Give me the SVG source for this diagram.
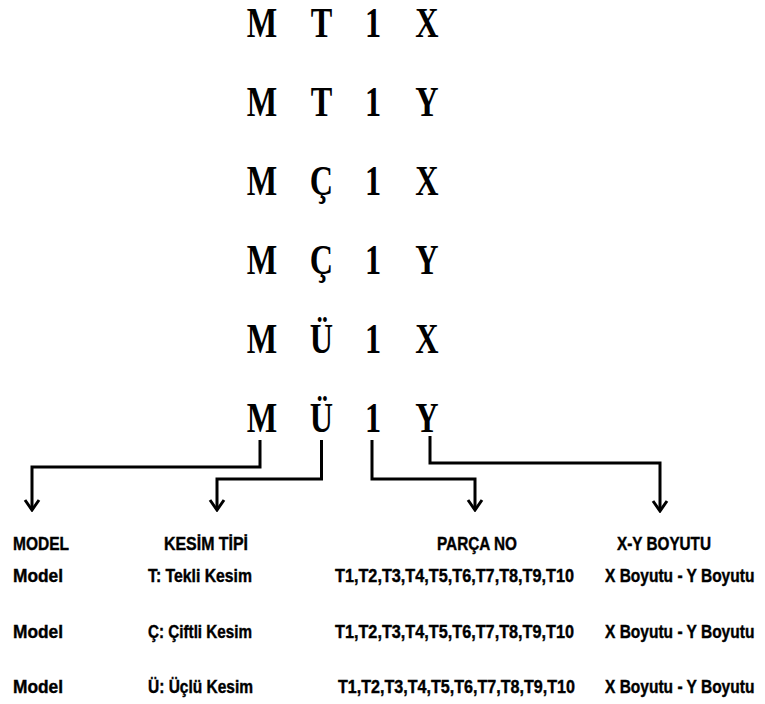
<svg xmlns="http://www.w3.org/2000/svg" width="765" height="704" viewBox="0 0 765 704">
<defs>
<style>
.big{font-family:"Liberation Serif",serif;font-weight:bold;font-size:43px;fill:#000;text-anchor:middle}
.lbl{font-family:"Liberation Sans",Arial,sans-serif;font-weight:bold;font-size:18px;fill:#000;stroke:#000;stroke-width:0.4}
.conn{fill:none;stroke:#000;stroke-width:3;stroke-linejoin:miter}
</style>
<marker id="ah" viewBox="0 0 14 18" refX="12" refY="9" markerWidth="14" markerHeight="18" markerUnits="userSpaceOnUse" orient="auto">
<path d="M2,2 L12,9 L2,16" fill="none" stroke="#000" stroke-width="3"/>
</marker>
</defs>
<rect width="765" height="704" fill="#fff"/>
<g id="codes">
<g id="row1" transform="translate(0,37) scale(0.75,1)"><text class="big" x="349.3" y="0">M</text><text class="big" x="428.7" y="0">T</text><text class="big" x="497.3" y="0">1</text><text class="big" x="569.3" y="0">X</text></g>
<g id="row2" transform="translate(0,116) scale(0.75,1)"><text class="big" x="349.3" y="0">M</text><text class="big" x="428.7" y="0">T</text><text class="big" x="497.3" y="0">1</text><text class="big" x="569.3" y="0">Y</text></g>
<g id="row3" transform="translate(0,195) scale(0.75,1)"><text class="big" x="349.3" y="0">M</text><text class="big" x="428.7" y="0">Ç</text><text class="big" x="497.3" y="0">1</text><text class="big" x="569.3" y="0">X</text></g>
<g id="row4" transform="translate(0,274) scale(0.75,1)"><text class="big" x="349.3" y="0">M</text><text class="big" x="428.7" y="0">Ç</text><text class="big" x="497.3" y="0">1</text><text class="big" x="569.3" y="0">Y</text></g>
<g id="row5" transform="translate(0,353) scale(0.75,1)"><text class="big" x="349.3" y="0">M</text><text class="big" x="428.7" y="0">Ü</text><text class="big" x="497.3" y="0">1</text><text class="big" x="569.3" y="0">X</text></g>
<g id="row6" transform="translate(0,432) scale(0.75,1)"><text class="big" x="349.3" y="0">M</text><text class="big" x="428.7" y="0">Ü</text><text class="big" x="497.3" y="0">1</text><text class="big" x="569.3" y="0">Y</text></g>
</g>
<g id="connectors">
<path class="conn" d="M260,440 V467 H32 V510" marker-end="url(#ah)"/>
<path class="conn" d="M321.5,440 V479 H217 V510" marker-end="url(#ah)"/>
<path class="conn" d="M372,440 V479 H475 V510" marker-end="url(#ah)"/>
<path class="conn" d="M430,436 V463 H660 V511" marker-end="url(#ah)"/>
</g>
<g id="model">
<text class="lbl" x="13" y="550" textLength="56" lengthAdjust="spacingAndGlyphs">MODEL</text>
<text class="lbl" x="13" y="582" textLength="50" lengthAdjust="spacingAndGlyphs">Model</text>
<text class="lbl" x="13" y="638" textLength="50" lengthAdjust="spacingAndGlyphs">Model</text>
<text class="lbl" x="13" y="693" textLength="50" lengthAdjust="spacingAndGlyphs">Model</text>
</g>
<g id="kesim">
<text class="lbl" x="164" y="550" textLength="84" lengthAdjust="spacingAndGlyphs">KESİM TİPİ</text>
<text class="lbl" x="148" y="582" textLength="104" lengthAdjust="spacingAndGlyphs">T: Tekli Kesim</text>
<text class="lbl" x="148" y="638" textLength="104" lengthAdjust="spacingAndGlyphs">Ç: Çiftli Kesim</text>
<text class="lbl" x="148" y="693" textLength="105" lengthAdjust="spacingAndGlyphs">Ü: Üçlü Kesim</text>
</g>
<g id="parca">
<text class="lbl" x="437" y="550" textLength="80" lengthAdjust="spacingAndGlyphs">PARÇA NO</text>
<text class="lbl" x="335" y="582" textLength="239" lengthAdjust="spacingAndGlyphs">T1,T2,T3,T4,T5,T6,T7,T8,T9,T10</text>
<text class="lbl" x="335" y="638" textLength="239" lengthAdjust="spacingAndGlyphs">T1,T2,T3,T4,T5,T6,T7,T8,T9,T10</text>
<text class="lbl" x="338" y="693" textLength="237" lengthAdjust="spacingAndGlyphs">T1,T2,T3,T4,T5,T6,T7,T8,T9,T10</text>
</g>
<g id="boyut">
<text class="lbl" x="617" y="550" textLength="94" lengthAdjust="spacingAndGlyphs">X-Y BOYUTU</text>
<text class="lbl" transform="translate(605,582) scale(0.862,1)">X Boyutu - Y Boyutu</text>
<text class="lbl" transform="translate(605,638) scale(0.862,1)">X Boyutu - Y Boyutu</text>
<text class="lbl" transform="translate(605,693) scale(0.862,1)">X Boyutu - Y Boyutu</text>
</g>
</svg>
